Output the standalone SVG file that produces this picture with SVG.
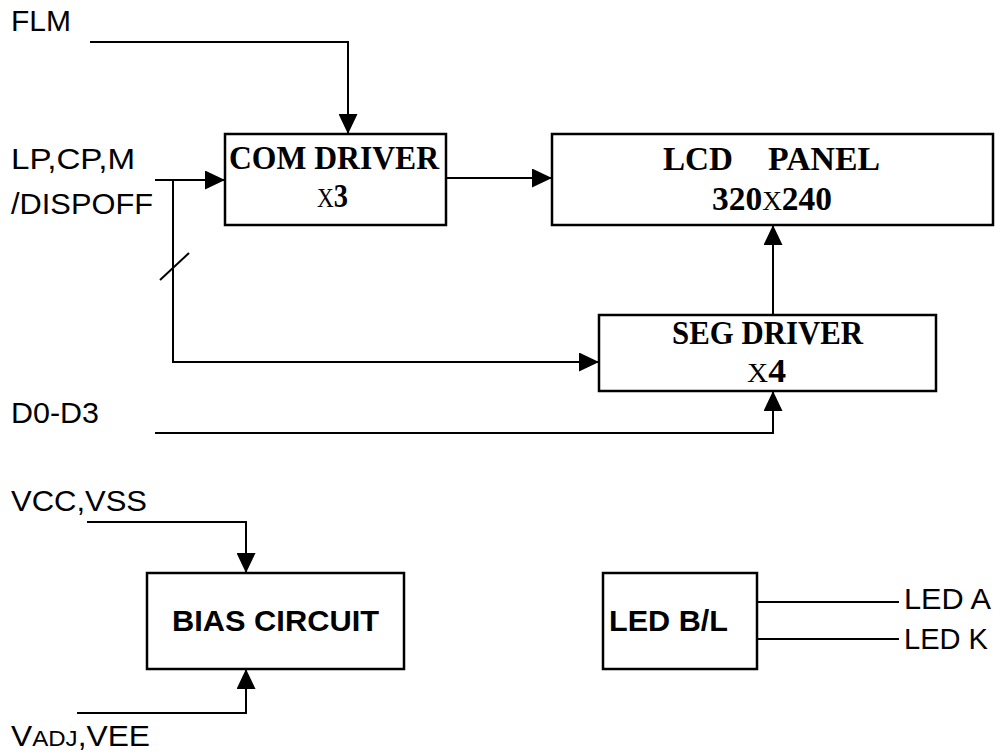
<svg xmlns="http://www.w3.org/2000/svg" width="1000" height="756" viewBox="0 0 1000 756">
<style>
.box{fill:#fff;stroke:#000;stroke-width:2.5}
.ln{fill:none;stroke:#000;stroke-width:2}
.sans{font-family:"Liberation Sans",Arial,sans-serif;font-size:29px;fill:#000}
.sansb{font-family:"Liberation Sans",Arial,sans-serif;font-size:29px;font-weight:bold;fill:#000}
.serif{font-family:"Liberation Serif","Times New Roman",serif;font-size:33px;font-weight:bold;fill:#000}
.xs{font-weight:normal;font-size:27px}
</style>
<defs>
<marker id="arr" markerWidth="20" markerHeight="19" refX="20" refY="9.5" orient="auto" markerUnits="userSpaceOnUse">
<path d="M0,0 L20,9.5 L0,19 Z" fill="#000"/>
</marker>
</defs>
<g id="labels">
<text class="sans" x="11" y="31" textLength="60" lengthAdjust="spacingAndGlyphs">FLM</text>
<text class="sans" x="11" y="169" textLength="124" lengthAdjust="spacingAndGlyphs">LP,CP,M</text>
<text class="sans" x="11" y="214" textLength="142" lengthAdjust="spacingAndGlyphs">/DISPOFF</text>
<text class="sans" x="11" y="423" textLength="88" lengthAdjust="spacingAndGlyphs">D0-D3</text>
<text class="sans" x="11" y="511" textLength="136" lengthAdjust="spacingAndGlyphs">VCC,VSS</text>
<text class="sans" x="11" y="746" textLength="139" lengthAdjust="spacingAndGlyphs">V<tspan font-size="22">ADJ</tspan>,VEE</text>
<text class="sans" x="904" y="609" textLength="87" lengthAdjust="spacingAndGlyphs">LED A</text>
<text class="sans" x="904" y="649" textLength="84" lengthAdjust="spacingAndGlyphs">LED K</text>
</g>
<g id="connectors">
<polyline class="ln" points="90,42 348,42 348,134" marker-end="url(#arr)"/>
<line class="ln" x1="155" y1="180" x2="225" y2="180" marker-end="url(#arr)"/>
<polyline class="ln" points="173,180 173,362 599,362" marker-end="url(#arr)"/>
<line class="ln" x1="160" y1="280" x2="189" y2="253"/>
<line class="ln" x1="446" y1="178" x2="552" y2="178" marker-end="url(#arr)"/>
<line class="ln" x1="773" y1="315" x2="773" y2="225" marker-end="url(#arr)"/>
<polyline class="ln" points="155,433 773,433 773,391" marker-end="url(#arr)"/>
<polyline class="ln" points="87,522 246,522 246,573" marker-end="url(#arr)"/>
<polyline class="ln" points="77,713 246,713 246,669" marker-end="url(#arr)"/>
<line class="ln" x1="757" y1="602" x2="899" y2="602"/>
<line class="ln" x1="757" y1="639" x2="899" y2="639"/>
</g>
<g id="com-driver">
<rect class="box" x="225" y="134" width="221" height="91"/>
<text class="serif" x="229" y="169" textLength="210" lengthAdjust="spacingAndGlyphs">COM DRIVER</text>
<text class="serif" x="317" y="207" textLength="31" lengthAdjust="spacingAndGlyphs"><tspan class="xs">X</tspan>3</text>
</g>
<g id="lcd-panel">
<rect class="box" x="552" y="134" width="441" height="91"/>
<text class="serif" x="663" y="170" textLength="70" lengthAdjust="spacingAndGlyphs">LCD</text>
<text class="serif" x="768" y="170" textLength="112" lengthAdjust="spacingAndGlyphs">PANEL</text>
<text class="serif" x="712" y="210" textLength="120" lengthAdjust="spacingAndGlyphs">320<tspan class="xs">X</tspan>240</text>
</g>
<g id="seg-driver">
<rect class="box" x="599" y="315" width="337" height="76"/>
<text class="serif" x="672" y="344" textLength="191" lengthAdjust="spacingAndGlyphs">SEG DRIVER</text>
<text class="serif" x="747" y="382" textLength="39" lengthAdjust="spacingAndGlyphs"><tspan class="xs" font-size="33">X</tspan>4</text>
</g>
<g id="bias-circuit">
<rect class="box" x="147" y="573" width="257" height="96"/>
<text class="sansb" x="172" y="631" textLength="207" lengthAdjust="spacingAndGlyphs">BIAS CIRCUIT</text>
</g>
<g id="led-bl">
<rect class="box" x="603" y="573" width="154" height="96"/>
<text class="sansb" x="609" y="631" textLength="119" lengthAdjust="spacingAndGlyphs">LED B/L</text>
</g>
</svg>
